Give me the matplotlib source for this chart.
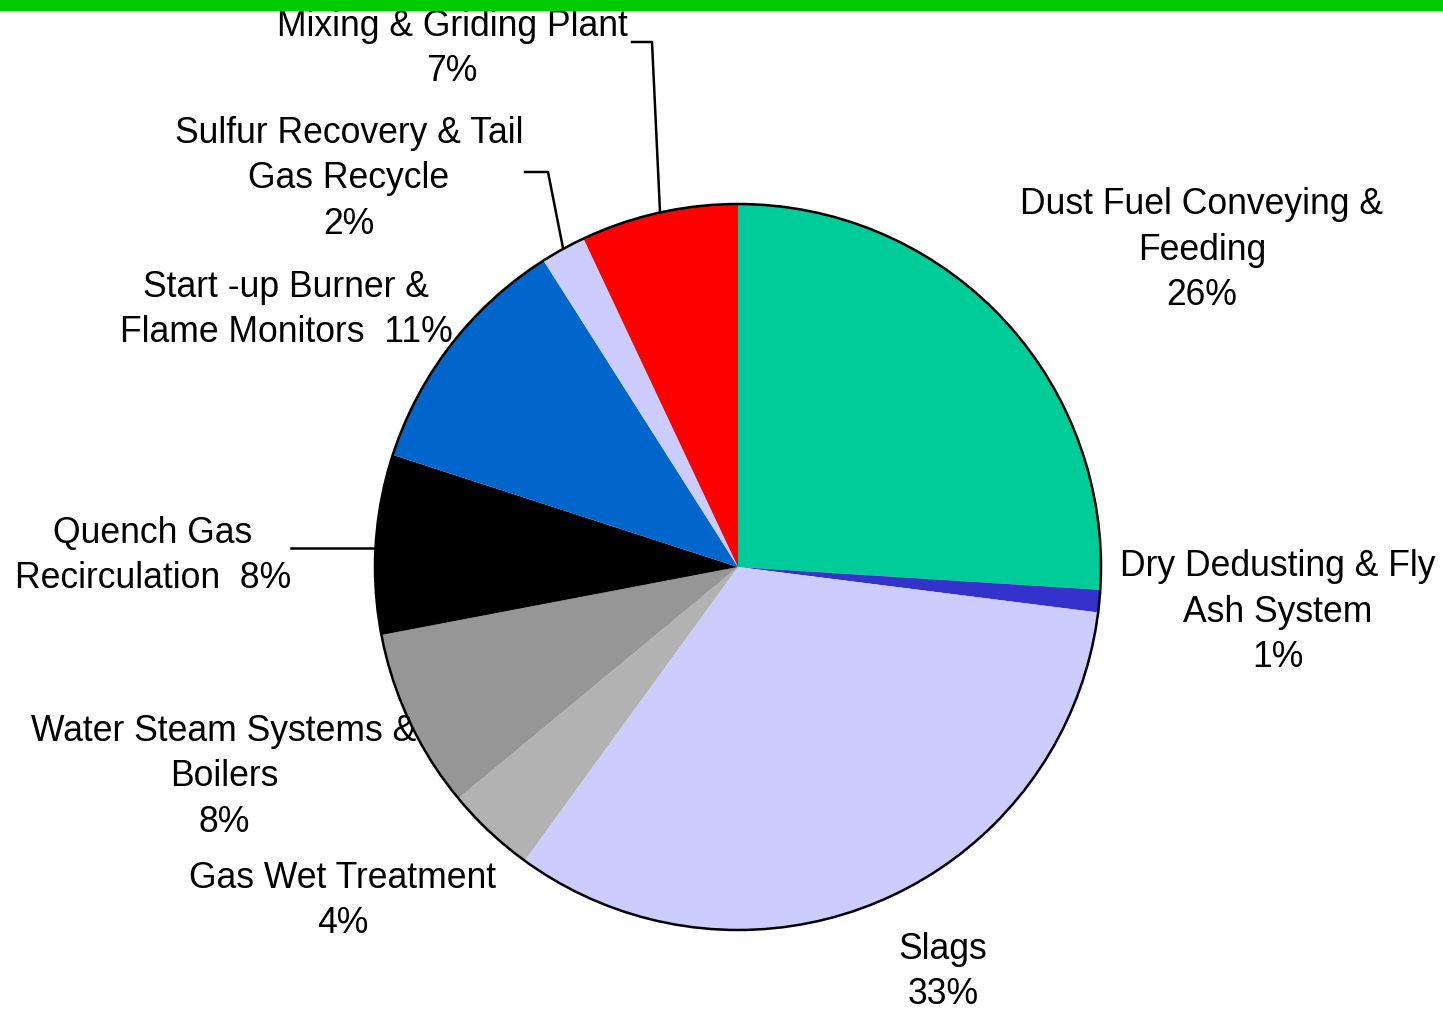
import matplotlib.pyplot as plt
from matplotlib.patches import Rectangle, Circle

plt.rcParams['font.family'] = ['Liberation Sans', 'DejaVu Sans']

W, H = 1443, 1011

labels = ["Dust Fuel Conveying &\nFeeding\n26%",
          "Dry Dedusting & Fly\nAsh System\n1%",
          "Slags\n33%",
          "Gas Wet Treatment\n4%",
          "Water Steam Systems &\nBoilers\n8%",
          "Quench Gas\nRecirculation  8%",
          "Start -up Burner &\nFlame Monitors  11%",
          "Sulfur Recovery & Tail\nGas Recycle\n2%",
          "Mixing & Griding Plant\n7%"]
shares = [26, 1, 33, 4, 8, 8, 11, 2, 7]
colors = ["#00CC99", "#3333CC", "#CCCCFF", "#B2B2B2", "#969696",
          "#000000", "#0066CC", "#CCCCFF", "#FF0000"]

# label block centres in pixel coords (y measured from top)
label_pos = [(1202, 250), (1278, 612), (943, 972), (343, 901), (224, 777),
             (153, 556), (286, 310), (349, 179), (452, 49)]

fig = plt.figure(figsize=(W / 100, H / 100), dpi=100)
ax = fig.add_axes([0, 0, 1, 1])

cx, cy, r = 738, H - 567, 363
ax.pie(shares, colors=colors, startangle=90, counterclock=False,
       center=(cx, cy), radius=r, wedgeprops=dict(linewidth=0))
ax.add_patch(Circle((cx, cy), r, fill=False, ec="black", lw=1.8))
ax.set_xlim(0, W)
ax.set_ylim(0, H)
ax.set_aspect("equal")
ax.axis("off")

for lab, (x, y) in zip(labels, label_pos):
    ax.text(x, H - y, lab, ha="center", va="center", fontsize=25.6,
            linespacing=1.40)

# leader lines
leaders = [[(660, 212), (652, 42), (632, 42)],
           [(563, 248), (548, 172), (525, 172)],
           [(378, 548), (291, 548)]]
for pts in leaders:
    ax.plot([p[0] for p in pts], [H - p[1] for p in pts], color="black", lw=1.8)

fig.patches.append(Rectangle((0, 1 - 10 / H), 1, 10 / H, transform=fig.transFigure,
                             color="#00CC00", zorder=5))

fig.savefig("out.png", dpi=100)
